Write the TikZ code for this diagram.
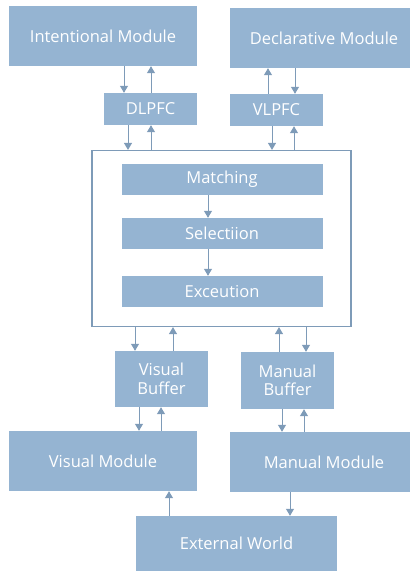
\documentclass[tikz,border=0pt]{standalone}
\usepackage{fontspec}
\setmainfont{Open Sans}
\usetikzlibrary{arrows.meta}
\definecolor{boxfill}{HTML}{95B4D2}
\definecolor{linecol}{HTML}{7E9BB8}
\tikzset{
  box/.style={fill=boxfill, draw=none, text=white, font=\fontsize{16.5}{18.5}\selectfont, align=center, inner sep=0pt},
  arr/.style={draw=linecol, line width=1pt, -{Triangle[width=8pt,length=7pt]}},
}
\begin{document}
\begin{tikzpicture}[x=1pt,y=-1pt]
\useasboundingbox (0,0) rectangle (410,571);
% top modules and prefrontal regions
\node[box, minimum width=188pt, minimum height=60pt] (im) at (103,36) {Intentional Module};
\node[box, minimum width=180pt, minimum height=60pt] (dm) at (320,38) {\hspace{8pt}Declarative Module};
\node[box, minimum width=93pt, minimum height=32pt] (dl) at (150.5,109) {DLPFC};
\node[box, minimum width=93pt, minimum height=32pt] (vl) at (276.5,110) {VLPFC};
% procedural core
\node[draw=linecol, line width=1.2pt, minimum width=259pt, minimum height=176pt, inner sep=0pt] (core) at (221.5,238.5) {};
\node[box, minimum width=201pt, minimum height=31pt] (ma) at (222,179.5) {Matching};
\node[box, minimum width=201pt, minimum height=31pt] (se) at (222,233.5) {Selectiion};
\node[box, minimum width=201pt, minimum height=31pt] (ex) at (222,291.5) {Exceution};
% buffers and perceptual/motor modules
\node[box, minimum width=93pt, minimum height=56pt] (vb) at (161.5,379) {Visual\\Buffer};
\node[box, minimum width=93pt, minimum height=57pt] (mb) at (287.5,380.5) {Manual\\Buffer};
\node[box, minimum width=188pt, minimum height=60pt] (vm) at (103,461) {Visual Module};
\node[box, minimum width=180pt, minimum height=60pt] (mm) at (320,462) {\hspace{8pt}Manual Module};
\node[box, minimum width=201pt, minimum height=55pt] (ew) at (236.5,543.5) {External World};
% connectors
\draw[arr] (im.south -| 124,0) -- (dl.north -| 124,0);
\draw[arr] (dl.north -| 151,0) -- (im.south -| 151,0);
\draw[arr] (dl.south -| 128,0) -- (core.north -| 128,0);
\draw[arr] (core.north -| 151,0) -- (dl.south -| 151,0);
\draw[arr] (vl.north -| 268,0) -- (dm.south -| 268,0);
\draw[arr] (dm.south -| 295,0) -- (vl.north -| 295,0);
\draw[arr] (vl.south -| 272,0) -- (core.north -| 272,0);
\draw[arr] (core.north -| 294,0) -- (vl.south -| 294,0);
\draw[arr] (ma.south -| 208,0) -- (se.north -| 208,0);
\draw[arr] (se.south -| 208,0) -- (ex.north -| 208,0);
\draw[arr] (core.south -| 135,0) -- (vb.north -| 135,0);
\draw[arr] (vb.north -| 173,0) -- (core.south -| 173,0);
\draw[arr] (mb.north -| 279,0) -- (core.south -| 279,0);
\draw[arr] (core.south -| 306,0) -- (mb.north -| 306,0);
\draw[arr] (vb.south -| 139,0) -- (vm.north -| 139,0);
\draw[arr] (vm.north -| 161,0) -- (vb.south -| 161,0);
\draw[arr] (mb.south -| 282,0) -- (mm.north -| 282,0);
\draw[arr] (mm.north -| 304,0) -- (mb.south -| 304,0);
\draw[arr] (ew.north -| 169,0) -- (vm.south -| 169,0);
\draw[arr] (mm.south -| 290,0) -- (ew.north -| 290,0);
\end{tikzpicture}
\end{document}
